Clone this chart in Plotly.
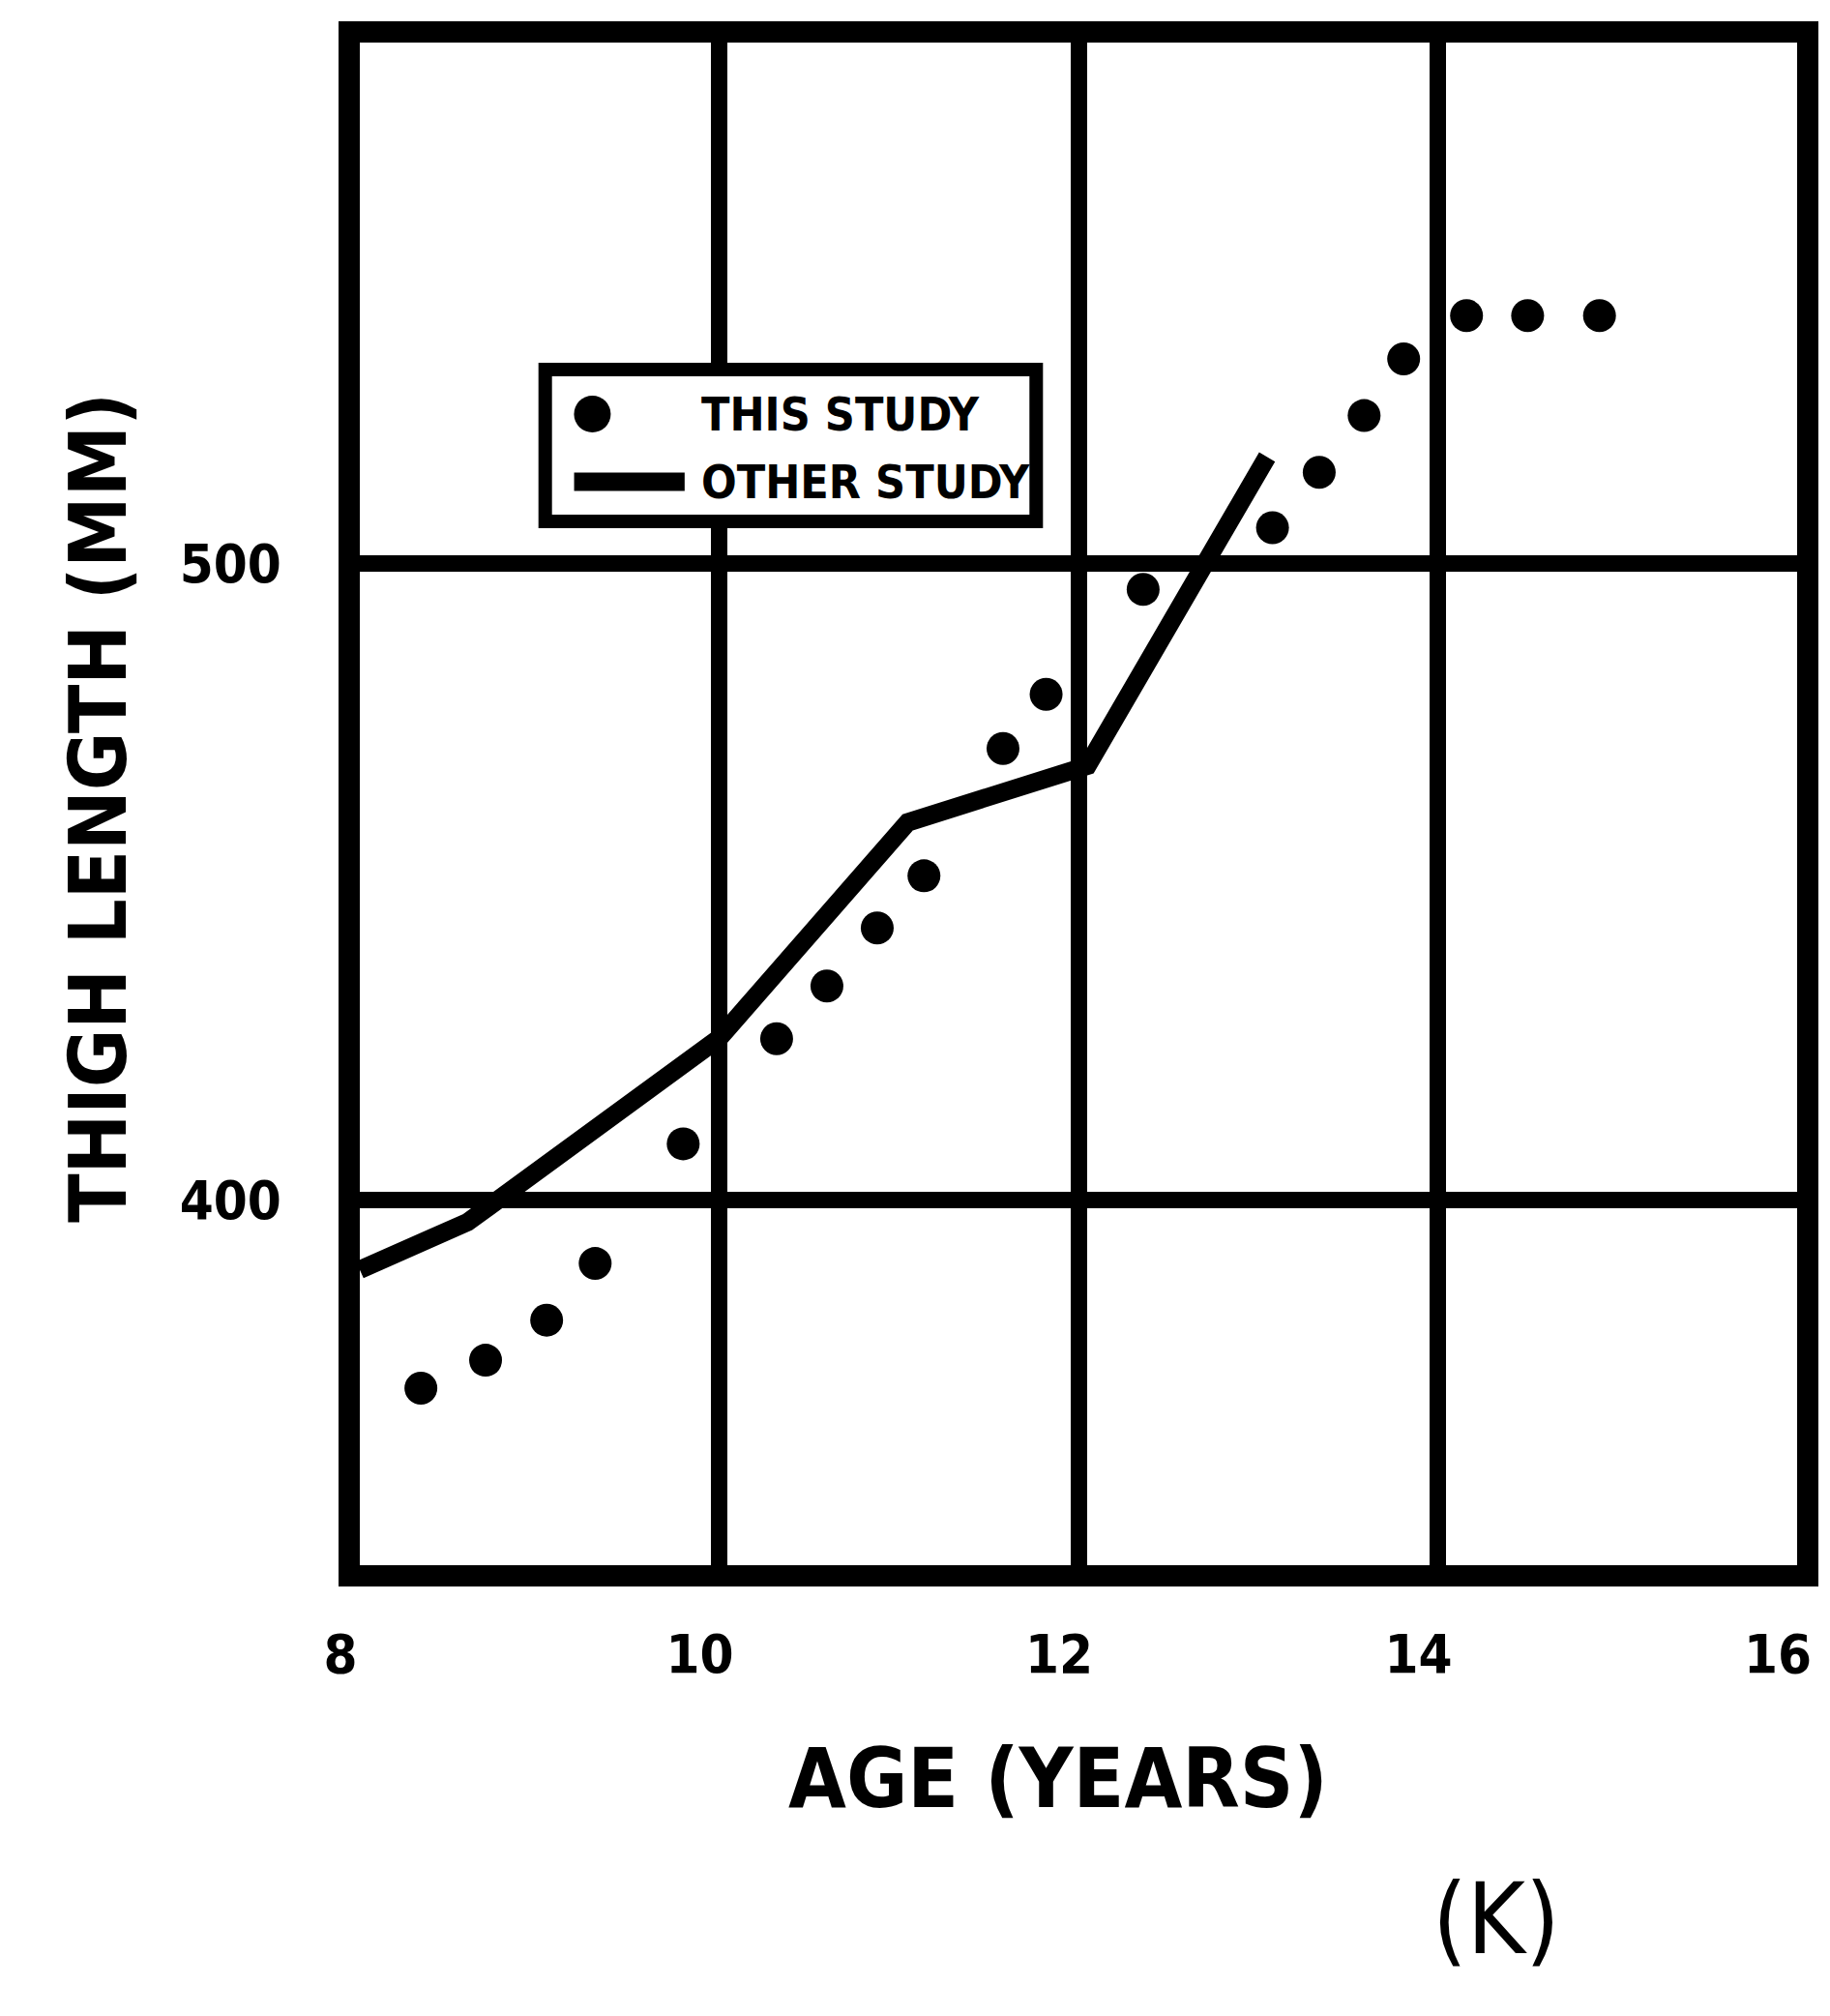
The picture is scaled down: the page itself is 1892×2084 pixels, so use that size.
import plotly.graph_objects as go

# Age (years) and thigh length (mm) measured in this study
study_age = [8.34, 8.70, 9.04, 9.31, 9.80, 10.32, 10.60, 10.88, 11.14, 11.58,
             11.82, 12.36, 13.08, 13.34, 13.59, 13.81, 14.16, 14.50, 14.90]
study_len = [370.4, 374.8, 381.1, 390.0, 408.8, 425.3, 433.6, 442.7, 450.9, 470.9,
             479.4, 495.9, 505.6, 514.3, 523.2, 532.1, 538.9, 538.9, 538.9]

# Reference curve from the earlier study
ref_age = [8.0, 8.60, 10.0, 11.05, 12.05, 13.05]
ref_len = [389.0, 396.5, 425.4, 459.3, 468.2, 516.7]

x_ticks = [8, 10, 12, 14, 16]
x_ticktext = ["8", "10", "12", "14", "16"]
y_ticks = [400, 500]
y_ticktext = ["400", "500"]

legend_labels = ["THIS STUDY", "OTHER STUDY"]

FONT = "DejaVu Sans Condensed, DejaVu Sans, sans-serif"
INK = "black"

fig = go.Figure()
fig.add_trace(go.Scatter(x=ref_age, y=ref_len, mode="lines",
                         line=dict(color=INK, width=19), name=legend_labels[1],
                         showlegend=False))
fig.add_trace(go.Scatter(x=study_age, y=study_len, mode="markers",
                         marker=dict(color=INK, size=34), name=legend_labels[0],
                         showlegend=False))

axis_common = dict(showline=True, mirror=True, linecolor=INK, linewidth=22,
                   showgrid=True, gridcolor=INK, gridwidth=17, zeroline=False,
                   ticks="outside", tickcolor="rgba(0,0,0,0)",
                   tickfont=dict(family=FONT, size=56, color=INK, weight="bold"))

fig.update_xaxes(range=[8, 16], tickmode="array", tickvals=x_ticks,
                 ticktext=x_ticktext, ticklen=22, ticklabelshift=-20, **axis_common)
fig.update_yaxes(range=[342.6, 581.8], tickmode="array", tickvals=y_ticks,
                 ticktext=y_ticktext, ticklen=48, **axis_common)

# Paper-coordinate helpers for a plot area spanning 372..1868 px wide, 44..1618 px tall
annotations = [
    dict(text="AGE (YEARS)", x=0.486, y=-0.1398, xref="paper", yref="paper",
         showarrow=False, xanchor="center", yanchor="middle",
         font=dict(family=FONT, size=86, color=INK, weight="bold")),
    dict(text="THIGH LENGTH (MM)", x=-0.1818, y=0.4975, xref="paper", yref="paper",
         showarrow=False, textangle=-90, xanchor="center", yanchor="middle",
         font=dict(family=FONT, size=82, color=INK, weight="bold")),
    dict(text="(K)", x=0.7908, y=-0.2319, xref="paper", yref="paper",
         showarrow=False, xanchor="center", yanchor="middle",
         font=dict(family=FONT, size=102, color=INK)),
]

# Legend panel: framed box with a dot and a line sample beside the labels
leg_x0, leg_x1 = 0.1290, 0.4706
leg_y0, leg_y1 = 0.6855, 0.7853
row_y = [0.7560, 0.7116]
sym_x = 0.1618
text_x = 0.2360

shapes = [
    dict(type="rect", xref="paper", yref="paper", x0=leg_x0, x1=leg_x1,
         y0=leg_y0, y1=leg_y1, line=dict(color=INK, width=14),
         fillcolor="white", layer="above"),
    dict(type="circle", xref="paper", yref="paper", xsizemode="pixel",
         ysizemode="pixel", xanchor=sym_x, yanchor=row_y[0],
         x0=-19, x1=19, y0=-19, y1=19, fillcolor=INK,
         line=dict(color=INK, width=0), layer="above"),
    dict(type="line", xref="paper", yref="paper", x0=0.1491, x1=0.2260,
         y0=row_y[1], y1=row_y[1], line=dict(color=INK, width=19), layer="above"),
]
for label, ry in zip(legend_labels, row_y):
    annotations.append(dict(text=label, x=text_x, y=ry, xref="paper", yref="paper",
                            showarrow=False, xanchor="left", yanchor="middle",
                            font=dict(family=FONT, size=48, color=INK, weight="bold")))

fig.update_layout(width=1892, height=2084,
                  margin=dict(l=372, r=24, t=44, b=466),
                  plot_bgcolor="white", paper_bgcolor="white",
                  showlegend=False, annotations=annotations, shapes=shapes)

fig.write_html("out.html")
